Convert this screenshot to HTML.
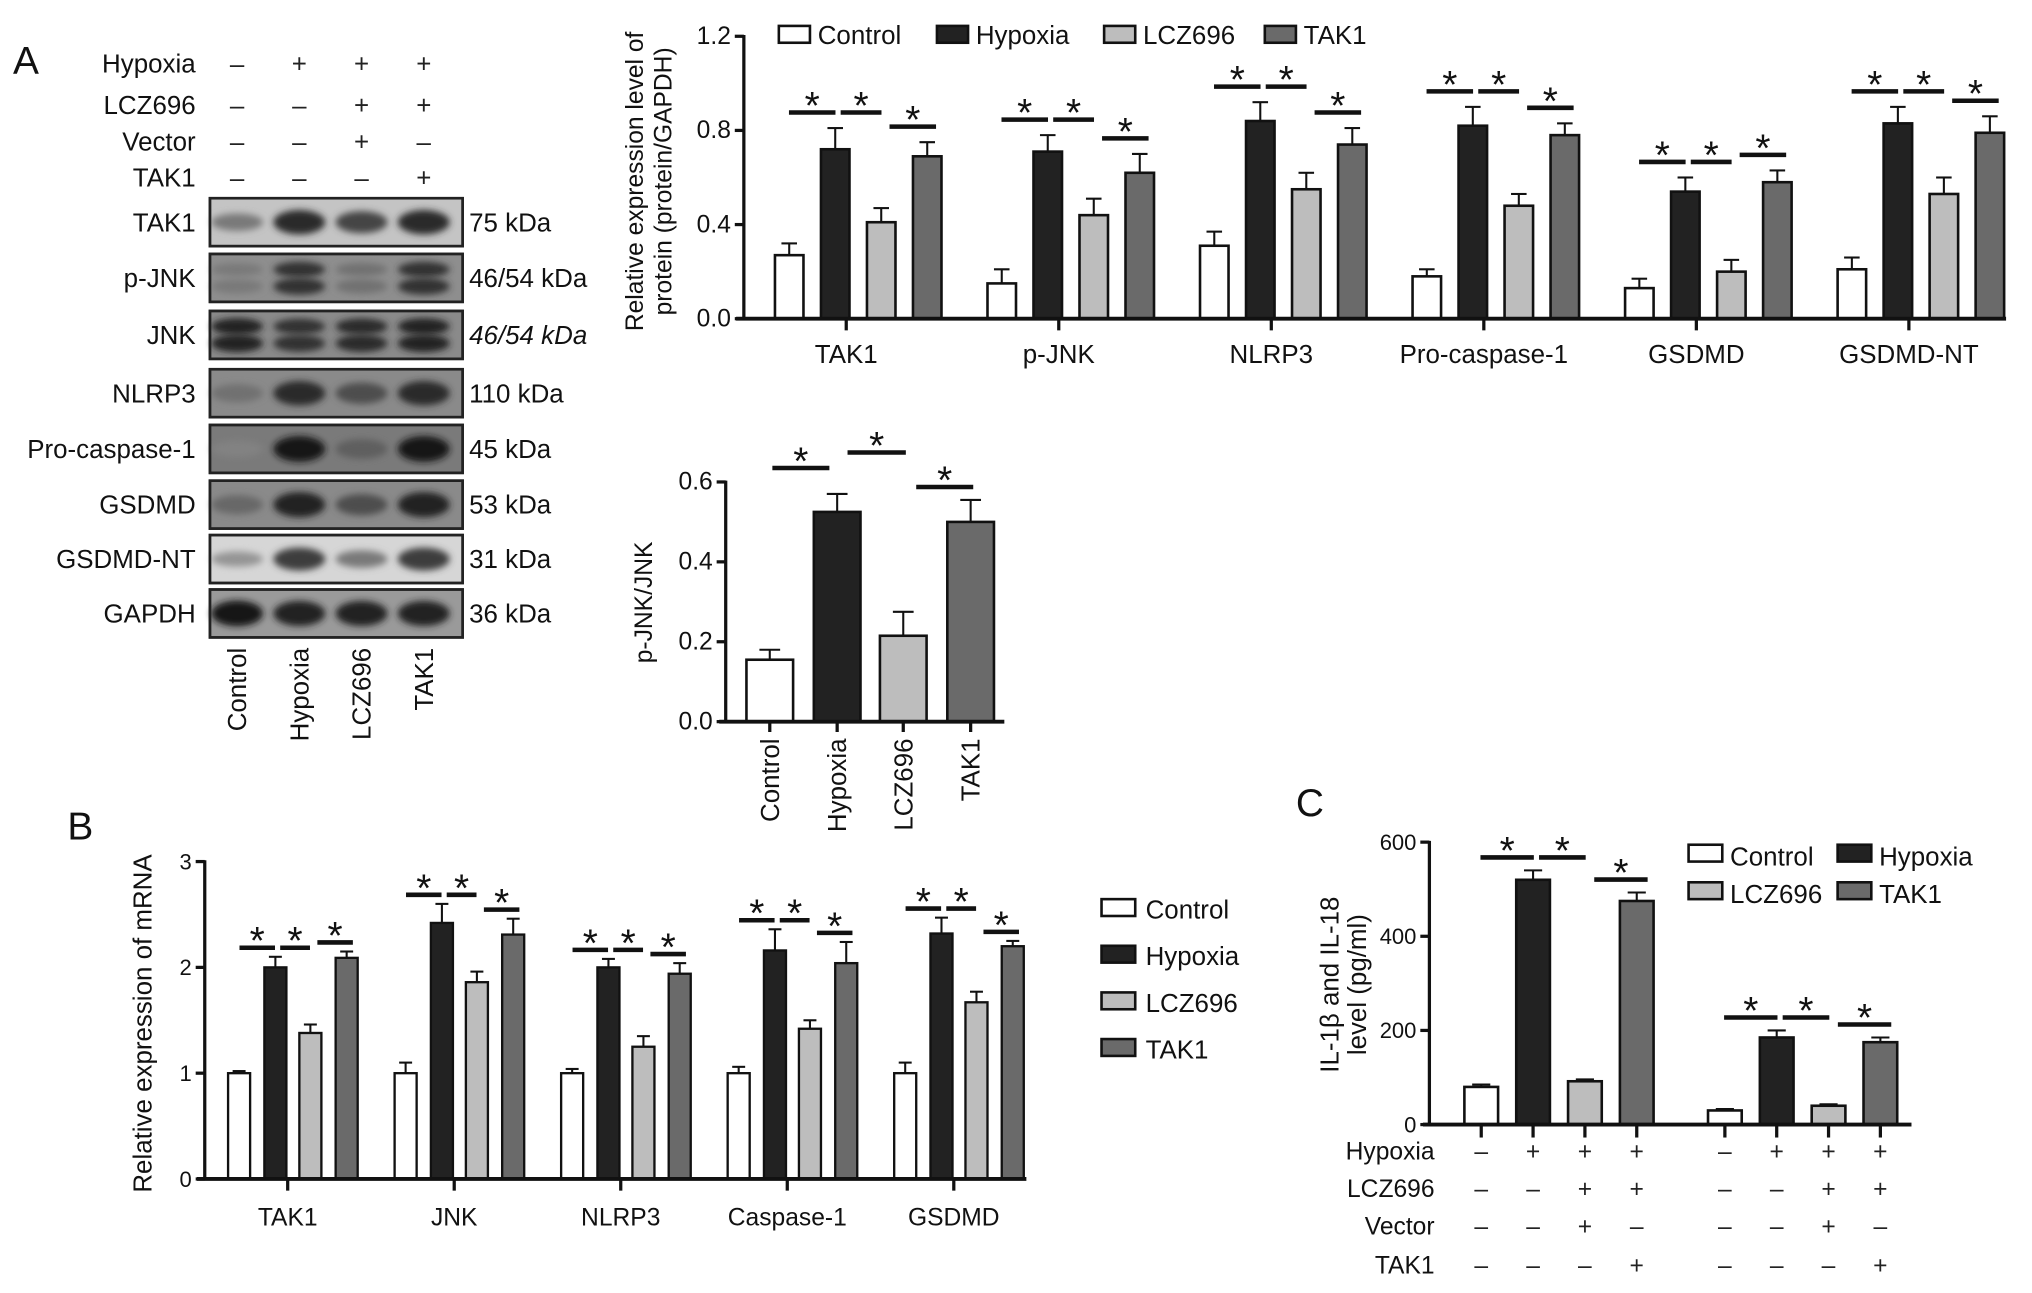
<!DOCTYPE html>
<html><head><meta charset="utf-8"><style>
html,body{margin:0;padding:0;background:#fff;}
svg{display:block;font-family:"Liberation Sans",Arial,sans-serif;}
</style></head><body>
<svg id="fig" width="2032" height="1293" viewBox="0 0 1568 998" preserveAspectRatio="none" xmlns="http://www.w3.org/2000/svg">
<defs><filter id="blur" x="-20%" y="-50%" width="140%" height="200%"><feGaussianBlur stdDeviation="2.6"/></filter></defs>
</svg>
<script>
// ---------- DATA ----------
const groupNames = ['Control','Hypoxia','LCZ696','TAK1'];
const topCats = ['TAK1','p-JNK','NLRP3','Pro-caspase-1','GSDMD','GSDMD-NT'];
const topControl = [0.27,0.15,0.31,0.18,0.13,0.21];
const topControlErr = [0.05,0.06,0.06,0.03,0.04,0.05];
const topHypoxia = [0.72,0.71,0.84,0.82,0.54,0.83];
const topHypoxiaErr = [0.09,0.07,0.08,0.08,0.06,0.07];
const topLCZ = [0.41,0.44,0.55,0.48,0.20,0.53];
const topLCZErr = [0.06,0.07,0.07,0.05,0.05,0.07];
const topTAK = [0.69,0.62,0.74,0.78,0.58,0.79];
const topTAKErr = [0.06,0.08,0.07,0.05,0.05,0.07];
const topTicks = [0,0.4,0.8,1.2];
const topTickLabels = ['0.0','0.4','0.8','1.2'];

const midValues = [0.155,0.525,0.215,0.50];
const midErr = [0.025,0.045,0.06,0.055];
const midTicks = [0,0.2,0.4,0.6];
const midTickLabels = ['0.0','0.2','0.4','0.6'];

const bCats = ['TAK1','JNK','NLRP3','Caspase-1','GSDMD'];
const bControl = [1.0,1.0,1.0,1.0,1.0];
const bControlErr = [0.02,0.1,0.04,0.06,0.1];
const bHypoxia = [2.0,2.42,2.0,2.16,2.32];
const bHypoxiaErr = [0.1,0.18,0.08,0.2,0.15];
const bLCZ = [1.38,1.86,1.25,1.42,1.67];
const bLCZErr = [0.08,0.1,0.1,0.08,0.1];
const bTAK = [2.09,2.31,1.94,2.04,2.2];
const bTAKErr = [0.06,0.15,0.1,0.2,0.05];
const bTicks = [0,1,2,3];

const cCats = ['IL-1β','IL-18'];
const cControl = [80,30];
const cControlErr = [5,3];
const cHypoxia = [520,185];
const cHypoxiaErr = [20,15];
const cLCZ = [92,40];
const cLCZErr = [4,3];
const cTAK = [475,175];
const cTAKErr = [18,10];
const cTicks = [0,200,400,600];

const blotRows = ['TAK1','p-JNK','JNK','NLRP3','Pro-caspase-1','GSDMD','GSDMD-NT','GAPDH'];
const blotKda = ['75 kDa','46/54 kDa','46/54 kDa','110 kDa','45 kDa','53 kDa','31 kDa','36 kDa'];
const blotIntensity = [[0.45,0.9,0.75,0.9],[0.45,0.85,0.5,0.85],[0.95,0.85,0.9,0.95],[0.5,0.9,0.7,0.9],[0.4,1,0.6,1],[0.55,0.95,0.7,0.95],[0.3,0.8,0.45,0.8],[1,0.95,0.95,0.95]];
const blotBg = ['#c4c4c4','#8e8e8e','#8a8a8a','#8a8a8a','#7a7a7a','#8a8a8a','#d6d6d6','#9a9a9a'];

// ---------- HELPERS ----------
const NS='http://www.w3.org/2000/svg';
const svg=document.getElementById('fig');
const fills=['#ffffff','#222222','#bdbdbd','#6a6a6a'];
function mk(tag,attrs,parent){const e=document.createElementNS(NS,tag);for(const k in attrs)e.setAttribute(k,attrs[k]);(parent||svg).appendChild(e);return e;}
function txt(s,attrs,parent){const t=mk('text',attrs,parent);t.textContent=s;return t;}

function drawSig(g,x1,x2,y){
  const l=mk('line',{x1:x1+2,x2:x2-2,y1:y,y2:y,stroke:'#111','stroke-width':3.5},g);
  
  
  const s=txt('*',{x:(x1+x2)/2,y:y+5,'font-size':30,'text-anchor':'middle',fill:'#111'},g);
  
  
}

function barChart(o){
  const g=mk('g',{});
  
  
  const ys=v=>o.y0-(v-o.ymin)/(o.ymax-o.ymin)*(o.y0-o.ytop);
  const series=o.series, errs=o.errs;
  for(let i=0;i<o.n;i++){
    const gx=o.gx0+i*o.gstep;
    const cx=[];
    for(let s=0;s<series.length;s++){
      const x=gx+o.offs[s]; const v=series[s][i]; const e=errs[s][i];
      cx.push(x+o.bw/2);
      const el=mk('line',{x1:x+o.bw/2,x2:x+o.bw/2,y1:ys(v),y2:ys(v+e),stroke:'#111','stroke-width':1.6},g);
      
      
      const cap=mk('line',{x1:x+o.bw/2-o.cap,x2:x+o.bw/2+o.cap,y1:ys(v+e),y2:ys(v+e),stroke:'#111','stroke-width':1.6},g);
      
      
      const r=mk('rect',{x:x,y:ys(v),width:o.bw,height:o.y0-ys(v),fill:fills[s],stroke:'#111','stroke-width':o.sw},g);
      
      
    }
    if(o.sig){
      const hTop=ys(series[1][i]+errs[1][i])-o.sigPad;
      drawSig(g,cx[0]-o.bw*0.1,cx[1]+o.bw*0.1,hTop);
      drawSig(g,cx[1]+o.bw*0.1,cx[2]+o.bw*0.1,hTop);
      const tTop=ys(series[3][i]+errs[3][i])-o.sigPad;
      drawSig(g,cx[2]+o.bw*0.2,cx[3]+o.bw*0.4,tTop);
    }
    if(o.cats){
      const gc=gx+o.gcenter;
      const tk=mk('line',{x1:gc,x2:gc,y1:o.y0,y2:o.y0+9,stroke:'#111','stroke-width':2.5},g);
      
      
      const ct=txt(o.cats[i],{x:gc,y:o.y0+o.catDy,'font-size':o.catFs,'text-anchor':'middle',fill:'#111'},g);
      
      
    }
  }
  const ax=mk('line',{x1:o.ax,x2:o.ax,y1:o.y0,y2:o.ytop-1,stroke:'#111','stroke-width':2.5},g);
  
  
  const xa=mk('line',{x1:o.xa0,x2:o.xa1,y1:o.y0,y2:o.y0,stroke:'#111','stroke-width':3},g);
  
  
  o.ticks.forEach((t,k)=>{
    const tl=mk('line',{x1:o.ax-7,x2:o.ax,y1:ys(t),y2:ys(t),stroke:'#111','stroke-width':2.5},g);
    
    
    const lb=txt(o.tickLabels?o.tickLabels[k]:String(t),{x:o.ax-10,y:ys(t)+6,'font-size':o.tickFs,'text-anchor':'end',fill:'#111'},g);
    
    
  });
  return {g,ys};
}

// ---------- PANEL LETTERS ----------
[['A',10,57],['B',52,648],['C',1000,630]].forEach(p=>{
  const t=txt(p[0],{x:p[1],y:p[2],'font-size':30,fill:'#111'});
  
  
});

// ---------- WESTERN BLOT ----------
const laneX=[183,231,279,327];
const condRows=[['Hypoxia',['–','+','+','+'],56],['LCZ696',['–','–','+','+'],88],['Vector',['–','–','+','–'],116],['TAK1',['–','–','–','+'],144]];
condRows.forEach(r=>{
  const l=txt(r[0],{x:151,y:r[2],'font-size':20,'text-anchor':'end',fill:'#111'});
  
  
  r[1].forEach((s,i)=>{
    const t=txt(s,{x:laneX[i],y:r[2],'font-size':20,'text-anchor':'middle',fill:'#222'});
    
    
  });
});
const rowTop=[153,196,240,285,328,371,413,455];
blotRows.forEach((name,r)=>{
  const y=rowTop[r], h=37;
  const g=mk('g',{});
  
  
  mk('rect',{x:162,y:y,width:195,height:h,fill:blotBg[r],stroke:'#222','stroke-width':2},g);
  const double=(name==='p-JNK'||name==='JNK');
  blotIntensity[r].forEach((v,i)=>{
    const c=Math.round(200-175*v);
    const col='rgb('+c+','+c+','+c+')';
    if(double){
      mk('ellipse',{cx:laneX[i],cy:y+12,rx:20,ry:3.5+3*v,fill:col,filter:'url(#blur)'},g);
      mk('ellipse',{cx:laneX[i],cy:y+25,rx:20,ry:4+3*v,fill:col,filter:'url(#blur)'},g);
    } else {
      mk('ellipse',{cx:laneX[i],cy:y+h/2,rx:20,ry:4+6*v,fill:col,filter:'url(#blur)'},g);
    }
  });
  mk('rect',{x:162,y:y,width:195,height:h,fill:'none',stroke:'#222','stroke-width':2},g);
  const rl=txt(name,{x:151,y:y+h/2+7,'font-size':20,'text-anchor':'end',fill:'#111'});
  
  
  const kd=txt(blotKda[r],{x:362,y:y+h/2+7,'font-size':20,fill:'#111','font-style':r===2?'italic':'normal'});
  
  
});
groupNames.forEach((n,i)=>{
  const t=txt(n,{x:0,y:0,'font-size':20,'text-anchor':'end',fill:'#111',transform:'translate('+(laneX[i]+7)+',500) rotate(-90)'});
  
  
});

// ---------- TOP CHART ----------
barChart({name:'protein-expression-chart',n:6,gx0:598,gstep:164,offs:[0,35.5,71,106.5],bw:22,cap:6,sw:2,
  series:[topControl,topHypoxia,topLCZ,topTAK],errs:[topControlErr,topHypoxiaErr,topLCZErr,topTAKErr],
  y0:246,ytop:28,ymin:0,ymax:1.2,ax:574,xa0:568,xa1:1548,ticks:topTicks,tickLabels:topTickLabels,tickFs:19,
  sig:true,sigPad:12,cats:topCats,gcenter:55,catDy:34,catFs:20});
const ytt1=txt('Relative expression level of',{x:0,y:0,'font-size':19,'text-anchor':'middle',fill:'#111',transform:'translate(496,140) rotate(-90)'});


const ytt2=txt('protein (protein/GAPDH)',{x:0,y:0,'font-size':19,'text-anchor':'middle',fill:'#111',transform:'translate(518,140) rotate(-90)'});


// top legend
[[601,'Control'],[723,'Hypoxia'],[852,'LCZ696'],[976,'TAK1']].forEach((l,i)=>{
  const r=mk('rect',{x:l[0],y:20,width:24,height:13,fill:fills[i],stroke:'#111','stroke-width':2});
  
  
  const t=txt(l[1],{x:l[0]+30,y:34,'font-size':20,fill:'#111'});
  
  
});

// ---------- MIDDLE CHART ----------
const mid=barChart({name:'pjnk-jnk-chart',n:1,gx0:576,gstep:0,offs:[0,52,103,155],bw:36,cap:8,sw:2,
  series:[[midValues[0]],[midValues[1]],[midValues[2]],[midValues[3]]],errs:[[midErr[0]],[midErr[1]],[midErr[2]],[midErr[3]]],
  y0:557,ytop:372,ymin:0,ymax:0.6,ax:560,xa0:555,xa1:775,ticks:midTicks,tickLabels:midTickLabels,tickFs:19,sig:false});
{
  const g=mid.g, ys=mid.ys;
  const c=[594,646,697,749];
  const h=ys(Math.max(midValues[1]+midErr[1],midValues[0]))-20;
  drawSig(g,c[0],c[1]-4,h);
  drawSig(g,c[1]+6,c[2]+4,h-12);
  const t=ys(midValues[3]+midErr[3])-10;
  drawSig(g,c[2]+8,c[3]+4,t);
  groupNames.forEach((n,i)=>{
    const tk=mk('line',{x1:c[i],x2:c[i],y1:557,y2:565,stroke:'#111','stroke-width':2.5},g);
    
    
    const lb=txt(n,{x:0,y:0,'font-size':20,'text-anchor':'end',fill:'#111',transform:'translate('+(c[i]+7)+',570) rotate(-90)'},g);
    
    
  });
  const yt=txt('p-JNK/JNK',{x:0,y:0,'font-size':19,'text-anchor':'middle',fill:'#111',transform:'translate(503,465) rotate(-90)'},g);
  
  
}

// ---------- PANEL B ----------
barChart({name:'mrna-expression-chart',n:5,gx0:176,gstep:128.5,offs:[0,28,55,83],bw:17,cap:5,sw:1.8,
  series:[bControl,bHypoxia,bLCZ,bTAK],errs:[bControlErr,bHypoxiaErr,bLCZErr,bTAKErr],
  y0:910,ytop:665,ymin:0,ymax:3,ax:158,xa0:152,xa1:792,ticks:bTicks,tickFs:17,
  sig:true,sigPad:7,cats:bCats,gcenter:46,catDy:36,catFs:19});
const byt=txt('Relative expression of mRNA',{x:0,y:0,'font-size':20,'text-anchor':'middle',fill:'#111',transform:'translate(117,790) rotate(-90)'});


groupNames.forEach((n,i)=>{
  const y=702+i*36;
  const r=mk('rect',{x:850,y:y-8,width:26,height:13,fill:fills[i],stroke:'#111','stroke-width':2});
  
  
  const t=txt(n,{x:884,y:y+7,'font-size':20,fill:'#111'});
  
  
});

// ---------- PANEL C ----------
barChart({name:'cytokine-level-chart',n:2,gx0:1130,gstep:188,offs:[0,40,80,120],bw:26,cap:7,sw:2,
  series:[cControl,cHypoxia,cLCZ,cTAK],errs:[cControlErr,cHypoxiaErr,cLCZErr,cTAKErr],
  y0:868,ytop:650,ymin:0,ymax:600,ax:1103,xa0:1098,xa1:1475,ticks:cTicks,tickFs:17,
  sig:true,sigPad:10});
const cyt1=txt('IL-1β and IL-18',{x:0,y:0,'font-size':20,'text-anchor':'middle',fill:'#111',transform:'translate(1033,760) rotate(-90)'});


const cyt2=txt('level (pg/ml)',{x:0,y:0,'font-size':20,'text-anchor':'middle',fill:'#111',transform:'translate(1054,760) rotate(-90)'});


[[1303,661,0],[1418,661,1],[1303,690,2],[1418,690,3]].forEach(l=>{
  const r=mk('rect',{x:l[0],y:l[1]-9,width:26,height:13,fill:fills[l[2]],stroke:'#111','stroke-width':2});
  
  
  const t=txt(groupNames[l[2]],{x:l[0]+32,y:l[1]+7,'font-size':20,fill:'#111'});
  
  
});
const cCols=[1143,1183,1223,1263,1331,1371,1411,1451];
cCols.forEach(x=>{
  const tk=mk('line',{x1:x,x2:x,y1:868,y2:878,stroke:'#111','stroke-width':2.5});
  
  
});
const cRows=[['Hypoxia',['–','+','+','+'],895],['LCZ696',['–','–','+','+'],924],['Vector',['–','–','+','–'],953],['TAK1',['–','–','–','+'],983]];
cRows.forEach(r=>{
  const l=txt(r[0],{x:1107,y:r[2],'font-size':19,'text-anchor':'end',fill:'#111'});
  
  
  cCols.forEach((x,i)=>{
    const t=txt(r[1][i%4],{x:x,y:r[2],'font-size':19,'text-anchor':'middle',fill:'#222'});
    
    
  });
});
</script>
</body></html>
